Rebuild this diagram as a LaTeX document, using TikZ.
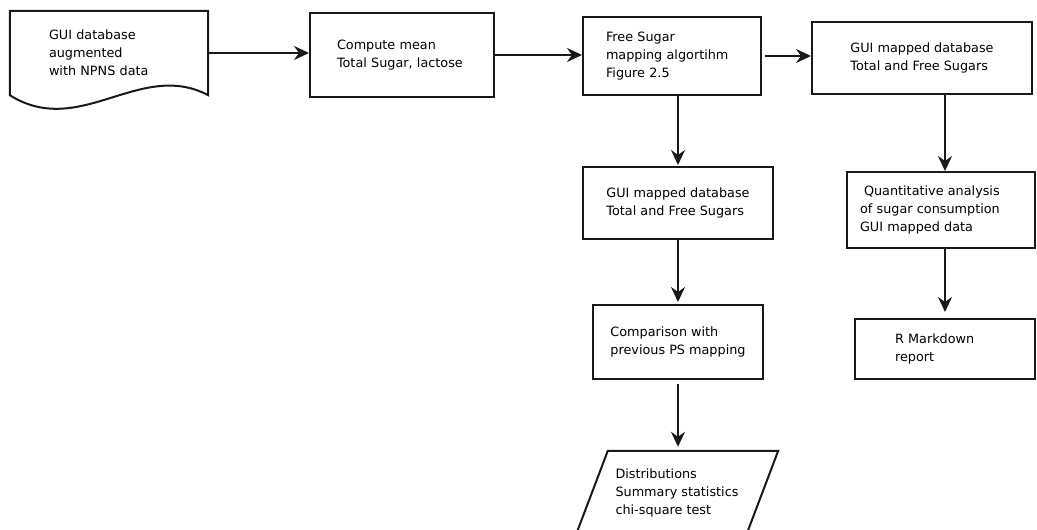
\documentclass[tikz,border=0pt]{standalone}
\usepackage{fontspec}
\setmainfont{DejaVu Sans}
\usetikzlibrary{arrows.meta, calc}
\definecolor{lineBlack}{gray}{0.1}

\begin{document}
\begin{tikzpicture}[x=1pt, y=-1pt,
    font=\fontsize{12.8}{18}\selectfont,
    stage/.style={draw=lineBlack, line width=2pt, align=left, inner ysep=0pt},
    flow/.style={-{Stealth[length=15pt, width=14pt, inset=5pt]}, line width=2pt, lineBlack}]
    \clip (0,0) rectangle (1037,530);

    % input document with a wavy lower edge
    \node[align=left, minimum width=198pt, minimum height=84pt, text width=120pt, inner xsep=39pt] (gui) at (109,53) {GUI database\\augmented\\with NPNS data};
    \draw[line width=2pt, lineBlack] (gui.south west) -- (gui.north west) -- (gui.north east) -- (gui.south east)
        .. controls +(-68,-36) and +(70,44) .. (gui.south west) -- cycle;

    % processing steps
    \node[stage, minimum width=184pt, minimum height=84pt, text width=130pt, inner xsep=27pt] (mean) at (402,55) {Compute mean\\Total Sugar, lactose};
    \node[stage, minimum width=178pt, minimum height=78pt, text width=132pt, inner xsep=23pt] (algo) at (672,56) {Free Sugar\\mapping algortihm\\Figure 2.5};
    \node[stage, minimum width=220pt, minimum height=72pt] (mapped) at (922,58) {GUI mapped database\\Total and Free Sugars};
    \node[stage, minimum width=190pt, minimum height=72pt] (mappedb) at (678,203) {GUI mapped database\\Total and Free Sugars};
    \node[stage, minimum width=188pt, minimum height=76pt, text width=162pt, inner xsep=13pt] (quant) at (941,210) {\hspace*{4pt}Quantitative analysis\\of sugar consumption\\GUI mapped data};
    \node[stage, minimum width=170pt, minimum height=74pt] (compare) at (678,342) {Comparison with\\previous PS mapping};
    \node[stage, minimum width=180pt, minimum height=60pt, text width=100pt, inner xsep=40pt] (report) at (945,349) {R Markdown\\report};

    % output as a slanted box
    \node[align=left, minimum width=170pt, minimum height=84pt] (stats) at (677,493) {Distributions\\Summary statistics\\chi-square test};
    \draw[line width=2pt, lineBlack] ($(stats.north west)+(16,0)$) -- ($(stats.north east)+(16,0)$)
        -- ($(stats.south east)+(-16,0)$) -- ($(stats.south west)+(-16,0)$) -- cycle;

    % connectors
    \draw[flow] (gui.east) -- (gui.east -| mean.west);
    \draw[flow] (mean.east) -- (mean.east -| algo.west);
    \draw[flow, shorten <=3pt] (algo.east) -- (algo.east -| mapped.west);
    \draw[flow, shorten >=1pt] (mappedb.north |- algo.south) -- (mappedb.north);
    \draw[flow] ($(quant.north |- mapped.south)+(4,0)$) -- ($(quant.north)+(4,0)$);
    \draw[flow, shorten >=2pt] (mappedb.south) -- (mappedb.south |- compare.north);
    \draw[flow, shorten >=6pt] ($(quant.south)+(4,0)$) -- ($(quant.south |- report.north)+(4,0)$);
    \draw[flow, shorten <=4pt, shorten >=4pt] (compare.south) -- (compare.south |- stats.north);
\end{tikzpicture}
\end{document}
